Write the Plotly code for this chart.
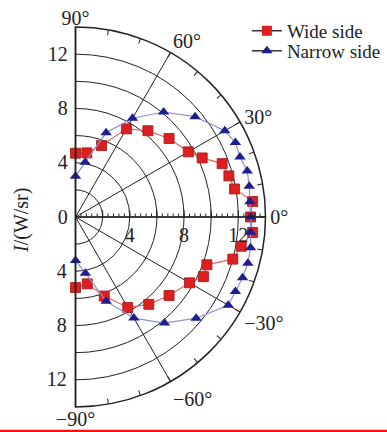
import plotly.graph_objects as go

# ---- data ----
angles = [90, 80, 70, 60, 50, 40, 30, 25, 20, 15, 10, 5, 0,
          -5, -10, -15, -20, -25, -30, -40, -50, -60, -70, -80, -90]
wide_side = [4.7, 4.8, 5.6, 7.5, 8.3, 9.0, 9.6, 10.3, 11.5, 11.7, 11.9, 13.1, 12.9,
             13.1, 12.4, 12.0, 10.3, 10.4, 9.7, 9.0, 8.4, 7.7, 6.2, 5.0, 5.2]
narrow_side = [3.0, 4.1, 6.6, 8.4, 10.1, 11.5, 12.7, 13.0, 12.9, 13.1, 13.0, 12.9, 12.9,
               12.95, 13.1, 13.15, 13.1, 13.0, 13.0, 11.6, 10.2, 8.6, 6.6, 4.2, 3.2]

radial_ticks = [0, 2, 4, 6, 8, 10, 12]
radial_labels_up = ["0", "", "4", "", "8", "", "12"]
radial_labels_down = ["", "", "4", "", "8", "", "12"]
angle_ticks = [-60, -30, 0, 30, 60]
angle_labels = ["\u221260\u00b0", "\u221230\u00b0", "0\u00b0", "30\u00b0", "60\u00b0"]
angle_end_ticks = [-90, 90]
angle_end_labels = ["\u221290\u00b0", "90\u00b0"]
angle_minor = list(range(-90, 91, 10))
radial_minor = [round(0.4 * i, 1) for i in range(36)]

FONT = "Liberation Serif"
RMAX = 14
SECTOR = [-90, 90]

fig = go.Figure()

red_fill = "#de1f1f"
red_line = "#e06a6a"
blue_fill = "#1e1e8e"
blue_line = "#8f8fd2"

# empty traces so the overlay polar layers (ticks / labels) are rendered
for sp in ["polar2", "polar3", "polar4", "polar5"]:
    fig.add_trace(go.Scatterpolar(r=[], theta=[], mode="markers", showlegend=False,
                                  hoverinfo="skip", subplot=sp))

fig.add_trace(go.Scatterpolar(
    r=wide_side, theta=angles, mode="lines+markers", name="Wide side",
    line=dict(color=red_line, width=1.2),
    marker=dict(symbol="square", size=10, color=red_fill, line=dict(color="#a01515", width=0.8)),
    showlegend=False, subplot="polar"))
fig.add_trace(go.Scatterpolar(
    r=narrow_side, theta=angles, mode="lines+markers", name="Narrow side",
    line=dict(color=blue_line, width=1.2),
    marker=dict(symbol="triangle-up", size=10, color=blue_fill),
    showlegend=False, subplot="polar"))

# legend-only entries (dark line like the reference legend)
fig.add_trace(go.Scatterpolar(
    r=[None], theta=[None], mode="lines+markers", name="Wide side",
    line=dict(color="#333333", width=1.5),
    marker=dict(symbol="square", size=10, color=red_fill),
    legend="legend", subplot="polar"))
fig.add_trace(go.Scatterpolar(
    r=[None], theta=[None], mode="lines+markers", name="Narrow side",
    line=dict(color="#333333", width=1.5),
    marker=dict(symbol="triangle-up", size=10, color=blue_fill),
    legend="legend2", subplot="polar"))

tickfont = dict(family=FONT, size=20, color="#222")

def hidden_angular(**kw):
    d = dict(rotation=0, direction="counterclockwise", showgrid=False,
             showticklabels=False, showline=False, ticks="")
    d.update(kw)
    return d

def hidden_radial(**kw):
    d = dict(range=[0, RMAX], showgrid=False, showticklabels=False,
             showline=False, ticks="")
    d.update(kw)
    return d

fig.update_layout(
    width=387, height=432,
    margin=dict(l=75, r=121, t=27, b=25, autoexpand=False),
    paper_bgcolor="white",
    font=dict(family=FONT, size=20, color="#222"),
    polar=dict(
        domain=dict(x=[0, 1], y=[0, 1]),
        sector=SECTOR, bgcolor="white",
        radialaxis=dict(range=[0, RMAX], angle=90, side="counterclockwise",
                        tickvals=radial_ticks, ticktext=radial_labels_up,
                        tickfont=tickfont, tickangle=90, ticks="",
                        showgrid=True, gridcolor="#222", gridwidth=1,
                        showline=True, linecolor="#222", linewidth=1.5),
        angularaxis=dict(rotation=0, direction="counterclockwise",
                         tickvals=angle_ticks, ticktext=angle_labels,
                         tickfont=tickfont, ticks="",
                         showgrid=True, gridcolor="#222", gridwidth=1,
                         showline=True, linecolor="#222", linewidth=1.5),
    ),
    polar2=dict(
        domain=dict(x=[0, 1], y=[0, 1]),
        sector=SECTOR, bgcolor="rgba(0,0,0,0)",
        radialaxis=dict(range=[0, RMAX], angle=-90, side="clockwise",
                        tickvals=radial_ticks, ticktext=radial_labels_down,
                        tickfont=tickfont, tickangle=-90, ticks="",
                        showgrid=False, showline=True, linecolor="#222", linewidth=1.5),
        angularaxis=hidden_angular(tickvals=angle_minor, ticktext=[""] * len(angle_minor),
                                   ticks="inside", ticklen=5, tickcolor="#222",
                                   showticklabels=True),
    ),
    polar3=dict(
        domain=dict(x=[0, 1], y=[0, 1]),
        sector=SECTOR, bgcolor="rgba(0,0,0,0)",
        radialaxis=dict(range=[0, RMAX], angle=0, side="clockwise",
                        tickvals=radial_ticks, ticktext=radial_labels_down,
                        tickfont=tickfont, tickangle=0, ticks="inside", ticklen=6,
                        tickcolor="#222",
                        showgrid=False, showline=True, linecolor="#222", linewidth=1.5),
        angularaxis=hidden_angular(),
    ),
    polar4=dict(
        domain=dict(x=[0, 1], y=[0, 1]),
        sector=SECTOR, bgcolor="rgba(0,0,0,0)",
        radialaxis=hidden_radial(angle=0, side="clockwise",
                                 tickvals=radial_minor, ticktext=[""] * len(radial_minor),
                                 ticks="inside", ticklen=3, tickcolor="#222"),
        angularaxis=hidden_angular(),
    ),
    # slightly smaller layer only for the ±90° labels (sit closer to the arc)
    polar5=dict(
        domain=dict(x=[0, 189 / 191], y=[2 / 380, 378 / 380]),
        sector=SECTOR, bgcolor="rgba(0,0,0,0)",
        radialaxis=hidden_radial(angle=0),
        angularaxis=hidden_angular(tickvals=angle_end_ticks, ticktext=angle_end_labels,
                                   showticklabels=True, tickfont=tickfont),
    ),
    legend=dict(x=0.90, y=0.99, xanchor="left", yanchor="middle",
                bgcolor="rgba(0,0,0,0)", font=dict(family=FONT, size=19, color="#222"),
                itemwidth=30),
    legend2=dict(x=0.90, y=0.937, xanchor="left", yanchor="middle",
                 bgcolor="rgba(0,0,0,0)", font=dict(family=FONT, size=19, color="#222"),
                 itemwidth=30),
    annotations=[dict(text="<i>I</i>/(W/sr)", xref="paper", yref="paper",
                      x=-0.283, y=0.492, xanchor="center", yanchor="middle",
                      textangle=-90, showarrow=False,
                      font=dict(family=FONT, size=20, color="#222"))],
    shapes=[dict(type="line", xref="paper", yref="paper",
                 x0=-75 / 191, x1=312 / 191, y0=-0.064, y1=-0.064,
                 line=dict(color="#ff1010", width=3))],
)

fig.write_html("out.html")
